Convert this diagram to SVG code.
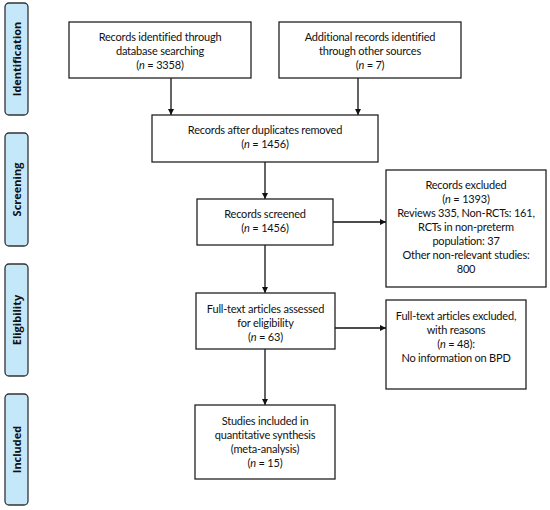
<svg xmlns="http://www.w3.org/2000/svg" width="550" height="510" viewBox="0 0 550 510">
<style>
.box{fill:#fff;stroke:#222;stroke-width:1.3}
.side{fill:#c4e8f9;stroke:#333;stroke-width:1.3}
.t{font-family:Lato,"Open Sans",sans-serif;font-size:11px;letter-spacing:-0.2px;fill:#111;text-anchor:middle}
.s{font-family:"Open Sans","DejaVu Sans",sans-serif;font-size:11px;font-weight:bold;fill:#111;text-anchor:middle}
.c{stroke:#111;stroke-width:1.3;fill:none}
</style>
<defs>
<marker id="ah" viewBox="0 0 10 10" refX="10" refY="5" markerWidth="6" markerHeight="6" markerUnits="userSpaceOnUse" orient="auto">
<path d="M0,0 L10,5 L0,10 z" fill="#111"/>
</marker>
</defs>
<rect width="550" height="510" fill="#fff"/>
<g id="side-identification"><rect class="side" x="5" y="3" width="23" height="112" rx="4"/><text class="s" transform="translate(21,59) rotate(-90)">Identification</text></g>
<g id="side-screening"><rect class="side" x="5" y="133" width="23" height="113" rx="4"/><text class="s" transform="translate(21,189.5) rotate(-90)">Screening</text></g>
<g id="side-eligibility"><rect class="side" x="5" y="264" width="23" height="112" rx="4"/><text class="s" transform="translate(21,320) rotate(-90)">Eligibility</text></g>
<g id="side-included"><rect class="side" x="5" y="394" width="23" height="111" rx="4"/><text class="s" transform="translate(21,449.5) rotate(-90)">Included</text></g>
<g id="connectors">
<line class="c" x1="171" y1="78" x2="171" y2="115" marker-end="url(#ah)"/>
<line class="c" x1="358" y1="78" x2="358" y2="115" marker-end="url(#ah)"/>
<line class="c" x1="265" y1="162" x2="265" y2="199" marker-end="url(#ah)"/>
<line class="c" x1="333" y1="222" x2="386" y2="222" marker-end="url(#ah)"/>
<line class="c" x1="265" y1="245" x2="265" y2="293" marker-end="url(#ah)"/>
<line class="c" x1="335" y1="328" x2="386" y2="328" marker-end="url(#ah)"/>
<line class="c" x1="265" y1="349" x2="265" y2="405" marker-end="url(#ah)"/>
</g>
<g id="n1"><rect class="box" x="69" y="22" width="182" height="56"/>
<text class="t" x="160" y="41">Records identified through</text>
<text class="t" x="160" y="55">database searching</text>
<text class="t" x="160" y="69">(<tspan font-style="italic">n</tspan> = 3358)</text></g>
<g id="n2"><rect class="box" x="279" y="22" width="182" height="56"/>
<text class="t" x="370" y="41">Additional records identified</text>
<text class="t" x="370" y="55">through other sources</text>
<text class="t" x="370" y="69">(<tspan font-style="italic">n</tspan> = 7)</text></g>
<g id="n3"><rect class="box" x="152" y="115" width="226" height="47"/>
<text class="t" x="265" y="134">Records after duplicates removed</text>
<text class="t" x="265" y="148">(<tspan font-style="italic">n</tspan> = 1456)</text></g>
<g id="n4"><rect class="box" x="197" y="199" width="136" height="46"/>
<text class="t" x="265" y="218">Records screened</text>
<text class="t" x="265" y="232">(<tspan font-style="italic">n</tspan> = 1456)</text></g>
<g id="n5"><rect class="box" x="386" y="170" width="160" height="117"/>
<text class="t" x="466" y="189">Records excluded</text>
<text class="t" x="466" y="203">(<tspan font-style="italic">n</tspan> = 1393)</text>
<text class="t" x="466" y="217">Reviews 335, Non-RCTs: 161,</text>
<text class="t" x="466" y="231">RCTs in non-preterm</text>
<text class="t" x="466" y="245">population: 37</text>
<text class="t" x="466" y="259">Other non-relevant studies:</text>
<text class="t" x="466" y="273">800</text></g>
<g id="n6"><rect class="box" x="196" y="293" width="139" height="56"/>
<text class="t" x="265.5" y="313">Full-text articles assessed</text>
<text class="t" x="265.5" y="327">for eligibility</text>
<text class="t" x="265.5" y="341">(<tspan font-style="italic">n</tspan> = 63)</text></g>
<g id="n7"><rect class="box" x="386" y="300" width="140" height="89"/>
<text class="t" x="456" y="320">Full-text articles excluded,</text>
<text class="t" x="456" y="334">with reasons</text>
<text class="t" x="456" y="348">(<tspan font-style="italic">n</tspan> = 48):</text>
<text class="t" x="456" y="362">No information on BPD</text></g>
<g id="n8"><rect class="box" x="195" y="405" width="140" height="74"/>
<text class="t" x="265" y="425">Studies included in</text>
<text class="t" x="265" y="439">quantitative synthesis</text>
<text class="t" x="265" y="453">(meta-analysis)</text>
<text class="t" x="265" y="467">(<tspan font-style="italic">n</tspan> = 15)</text></g>
</svg>
